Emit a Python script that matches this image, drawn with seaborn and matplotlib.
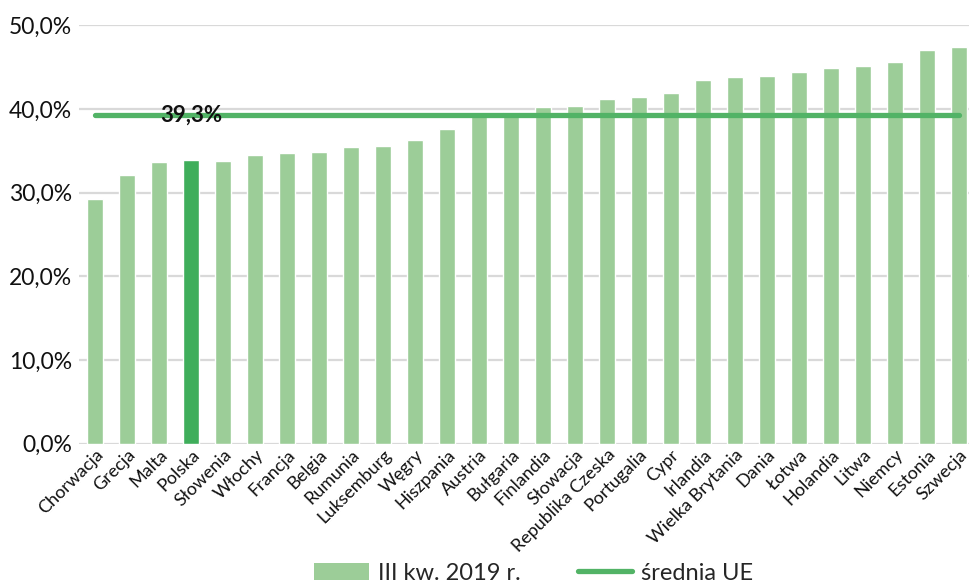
import matplotlib
matplotlib.use("Agg")
import matplotlib.pyplot as plt
from matplotlib.patches import Patch
from matplotlib.lines import Line2D
import seaborn as sns
import pandas as pd

countries = [
    "Chorwacja", "Grecja", "Malta", "Polska", "Słowenia", "Włochy", "Francja",
    "Belgia", "Rumunia", "Luksemburg", "Węgry", "Hiszpania", "Austria",
    "Bułgaria", "Finlandia", "Słowacja", "Republika Czeska", "Portugalia",
    "Cypr", "Irlandia", "Wielka Brytania", "Dania", "Łotwa", "Holandia",
    "Litwa", "Niemcy", "Estonia", "Szwecja",
]
values = [
    29.3, 32.1, 33.7, 33.9, 33.8, 34.5, 34.8, 34.9, 35.5, 35.6, 36.3, 37.6,
    39.5, 39.7, 40.2, 40.3, 41.2, 41.4, 41.9, 43.5, 43.8, 43.9, 44.4, 44.9,
    45.1, 45.6, 47.1, 47.4,
]
eu_average = 39.3
highlight = "Polska"
y_ticks = [0, 10, 20, 30, 40, 50]
bar_label = "III kw. 2019 r."
line_label = "średnia UE"

light_green = "#9ccd98"
dark_green = "#3fae5b"
line_green = "#52b366"

sns.set_theme(style="white")
plt.rcParams["font.family"] = ["Lato", "DejaVu Sans"]

df = pd.DataFrame({"kraj": countries, "udzial": values})
palette = {c: (dark_green if c == highlight else light_green) for c in countries}

fig = plt.figure(figsize=(9.69, 5.84), dpi=100)
ax = fig.add_axes([79 / 969, 1 - 443.8 / 584, 896 / 969, (443.8 - 25.3) / 584])

sns.barplot(data=df, x="kraj", y="udzial", hue="kraj", palette=palette,
            width=0.47, saturation=1, legend=False, ax=ax, zorder=2)

# EU average line across all countries
ax.plot([0, len(countries) - 1], [eu_average, eu_average], color=line_green,
        lw=3.8, solid_capstyle="round", zorder=3)
ax.text(countries.index(highlight), eu_average,
        f"{eu_average:.1f}%".replace(".", ","), ha="center", va="center",
        fontsize=16, fontweight="bold", color="#111111", zorder=4)

ax.set_xlim(-0.5, len(countries) - 0.5)
ax.set_ylim(0, 50)
ax.set_yticks(y_ticks)
ax.set_yticklabels([f"{t:.1f}%".replace(".", ",") for t in y_ticks],
                   fontsize=16.5, color="#111111")
ax.tick_params(axis="y", length=0, pad=5)
ax.tick_params(axis="x", length=0, pad=2)
ax.set_xticks(range(len(countries)))
ax.set_xticklabels(countries, rotation=45, ha="right", rotation_mode="anchor",
                   fontsize=13, color="#111111")
ax.set_xlabel("")
ax.set_ylabel("")
ax.yaxis.grid(True, color="#d9d9d9", lw=1.6, zorder=0)
ax.set_axisbelow(True)
for s in ax.spines.values():
    s.set_visible(False)

handles = [
    Patch(facecolor=light_green, edgecolor="none", label=bar_label),
    Line2D([0], [0], color=line_green, lw=3.8, solid_capstyle="round",
           label=line_label),
]
fig.legend(handles=handles, loc="center", bbox_to_anchor=(0.551, 1 - 573 / 584),
           ncol=2, frameon=False, fontsize=17, handlelength=2.3,
           handleheight=0.75, columnspacing=2.4, handletextpad=0.4,
           borderpad=0.1)

fig.savefig("out.png", dpi=100)
